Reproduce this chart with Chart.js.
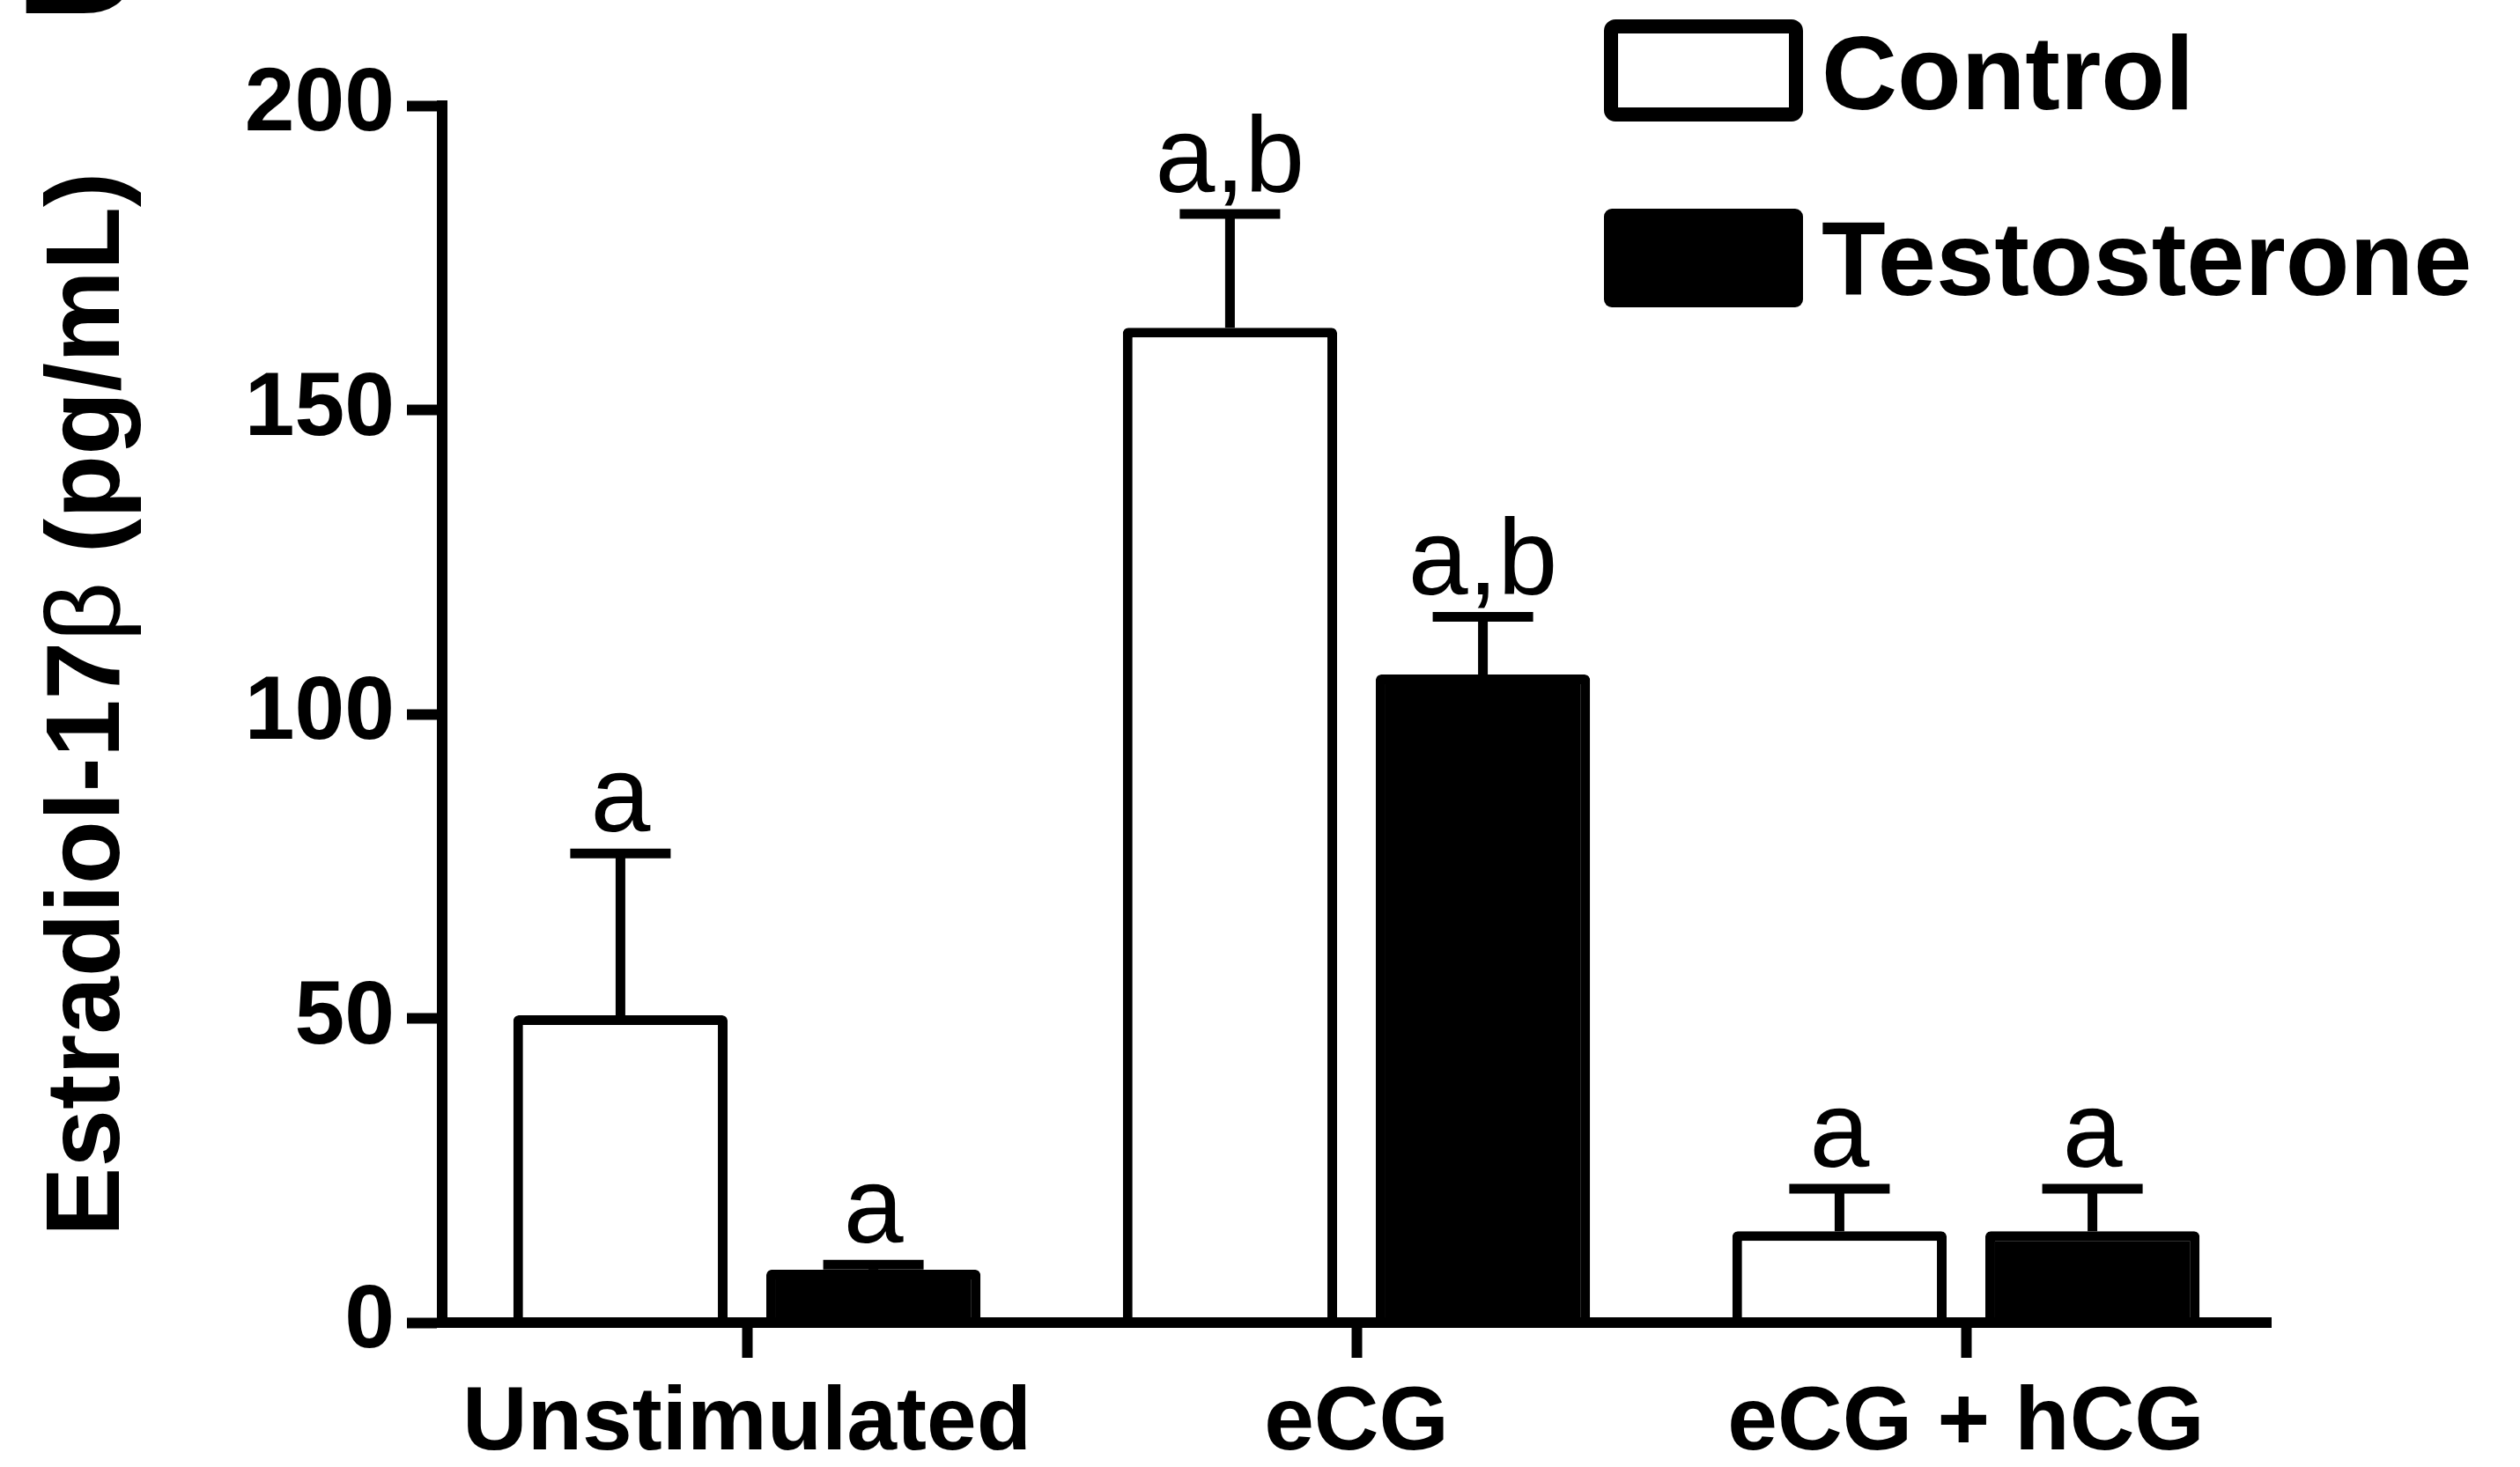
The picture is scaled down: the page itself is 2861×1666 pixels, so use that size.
<!DOCTYPE html>
<html>
<head>
<meta charset="utf-8">
<script src="https://cdn.jsdelivr.net/npm/chart.js@4.4.1/dist/chart.umd.min.js"></script>
<style>
  html, body { margin: 0; padding: 0; background: #ffffff; }
  canvas { display: block; }
</style>
</head>
<body>
<canvas id="chart" width="2861" height="1666"></canvas>
<script>
// Estradiol-17β output by treatment group
const categories = ['Unstimulated', 'eCG', 'eCG + hCG'];
const seriesNames = ['Control', 'Testosterone'];
const controlMeans = [50.5, 163.5, 15];
const testosteroneMeans = [8.7, 106.5, 15];
const controlErrors = [26.6, 18.7, 7];
const testosteroneErrors = [0.8, 9.5, 7];
const controlLetters = ['a', 'a,b', 'a'];
const testosteroneLetters = ['a', 'a,b', 'a'];
const yMin = 0, yMax = 200, yStep = 50;
const yTitleParts = [['Estradiol-17', 'bold'], ['\u03B2', 'normal'], [' (pg/mL)', 'bold']];
const panelLetter = 'B';

const FONT = '"Liberation Sans", Arial, sans-serif';
const INK = '#000000';

// Upward error bars with significance letters above them
const errorBarPlugin = {
  id: 'errorBars',
  afterDatasetsDraw(chart) {
    const ctx = chart.ctx;
    const y = chart.scales.y;
    chart.data.datasets.forEach((ds, i) => {
      const meta = chart.getDatasetMeta(i);
      meta.data.forEach((bar, j) => {
        const top = y.getPixelForValue(ds.data[j] + ds.errors[j]);
        const half = 57;
        ctx.save();
        ctx.strokeStyle = INK;
        ctx.lineWidth = 11;
        ctx.lineCap = 'butt';
        ctx.beginPath();
        ctx.moveTo(bar.x, bar.y);
        ctx.lineTo(bar.x, top);
        ctx.stroke();
        ctx.beginPath();
        ctx.moveTo(bar.x - half, top);
        ctx.lineTo(bar.x + half, top);
        ctx.stroke();
        ctx.fillStyle = INK;
        ctx.font = '122px ' + FONT;
        ctx.textAlign = 'center';
        ctx.textBaseline = 'alphabetic';
        ctx.fillText(ds.letters[j], bar.x, top - 25);
        ctx.restore();
      });
    });
  }
};

// Legend boxes in the upper right
const legendPlugin = {
  id: 'boxLegend',
  afterDraw(chart) {
    const ctx = chart.ctx;
    const rows = [{ y: 22, h: 116 }, { y: 237, h: 112 }];
    chart.data.datasets.forEach((ds, i) => {
      const r = rows[i];
      const x = 1821, w = 226;
      ctx.save();
      ctx.beginPath();
      ctx.roundRect(x, r.y, w, r.h, 9);
      if (ds.backgroundColor === INK) {
        ctx.fillStyle = INK;
        ctx.fill();
      } else {
        ctx.beginPath();
        ctx.roundRect(x + 8, r.y + 8, w - 16, r.h - 16, 5);
        ctx.strokeStyle = INK;
        ctx.lineWidth = 16;
        ctx.stroke();
      }
      ctx.fillStyle = INK;
      ctx.font = 'bold 119px ' + FONT;
      ctx.textAlign = 'left';
      ctx.textBaseline = 'alphabetic';
      ctx.fillText(ds.label, 2068, r.y + r.h - 14);
      ctx.restore();
    });
  }
};

// Rotated y-axis title with a regular-weight beta
const yTitlePlugin = {
  id: 'yTitle',
  afterDraw(chart) {
    const ctx = chart.ctx;
    const size = 118;
    ctx.save();
    ctx.fillStyle = INK;
    let total = 0;
    const widths = yTitleParts.map(([t, w]) => {
      ctx.font = w + ' ' + size + 'px ' + FONT;
      const m = ctx.measureText(t).width;
      total += m;
      return m;
    });
    ctx.translate(93, 800);
    ctx.rotate(-Math.PI / 2);
    ctx.textBaseline = 'alphabetic';
    ctx.textAlign = 'left';
    let x = -total / 2;
    yTitleParts.forEach(([t, w], k) => {
      ctx.font = w + ' ' + size + 'px ' + FONT;
      ctx.fillText(t, x, 42);
      x += widths[k];
    });
    ctx.restore();
  }
};

// Panel letter at the top-left edge
const panelPlugin = {
  id: 'panelLetter',
  afterDraw(chart) {
    const ctx = chart.ctx;
    ctx.save();
    ctx.fillStyle = INK;
    ctx.font = 'bold 190px ' + FONT;
    ctx.textBaseline = 'alphabetic';
    ctx.fillText(panelLetter, 17, 15);
    ctx.restore();
  }
};

new Chart(document.getElementById('chart'), {
  type: 'bar',
  data: {
    labels: categories,
    datasets: [
      {
        label: seriesNames[0],
        data: controlMeans,
        errors: controlErrors,
        letters: controlLetters,
        backgroundColor: '#ffffff',
        borderColor: INK,
        borderWidth: 11,
        borderRadius: 6
      },
      {
        label: seriesNames[1],
        data: testosteroneMeans,
        errors: testosteroneErrors,
        letters: testosteroneLetters,
        backgroundColor: INK,
        borderColor: INK,
        borderWidth: 11,
        borderRadius: 6
      }
    ]
  },
  options: {
    responsive: false,
    animation: false,
    devicePixelRatio: 1,
    categoryPercentage: 0.83,
    barPercentage: 0.847,
    layout: { padding: { top: 120, right: 283, left: 0, bottom: 0 } },
    plugins: {
      legend: { display: false },
      tooltip: { enabled: false }
    },
    scales: {
      x: {
        offset: true,
        grid: {
          offset: false,
          drawOnChartArea: false,
          drawTicks: true,
          tickLength: 40,
          tickWidth: 12,
          tickColor: INK,
          z: 1
        },
        border: { display: true, color: INK, width: 12, z: 1 },
        ticks: {
          color: INK,
          padding: 15,
          maxRotation: 0,
          autoSkip: false,
          font: { family: FONT, size: 102, weight: 'bold' }
        },
        afterFit(scale) { scale.height = 164; }
      },
      y: {
        min: yMin,
        max: yMax,
        grid: {
          drawOnChartArea: false,
          drawTicks: true,
          tickLength: 40,
          tickWidth: 12,
          tickColor: INK
        },
        border: { display: true, color: INK, width: 12 },
        ticks: {
          stepSize: yStep,
          color: INK,
          padding: 14,
          font: { family: FONT, size: 102, weight: 'bold' }
        },
        afterFit(scale) { scale.width = 502; }
      }
    }
  },
  plugins: [errorBarPlugin, legendPlugin, yTitlePlugin, panelPlugin]
});
</script>
</body>
</html>
